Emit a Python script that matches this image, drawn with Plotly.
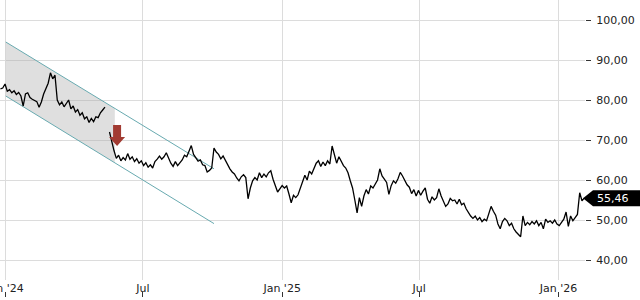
import numpy as np
import pandas as pd
import plotly.graph_objects as go

# ---- data ----
start_date = "2023-12-26"
step = "3D"
price = [
    82.8, 83.0, 84.0, 82.2, 82.6, 81.8, 82.3, 81.4, 81.9, 81.0,
    78.5, 81.5, 81.8, 80.6, 80.2, 79.8, 79.6, 78.2, 79.5, 81.5,
    82.8, 84.2, 86.8, 85.3, 86.2, 80.0, 78.8, 79.5, 78.3, 79.3,
    80.0, 77.8, 78.5, 77.0, 77.6, 76.2, 76.8, 75.3, 75.8, 74.4,
    75.4, 74.6, 75.8, 75.6, 76.8, 77.5, 78.2, None, 72.0, 69.3,
    67.3, 65.4, 66.2, 64.8, 65.6, 65.0, 66.6, 65.2, 65.8, 64.6,
    65.3, 64.2, 64.8, 63.6, 64.3, 63.2, 63.8, 63.0, 64.6, 65.2,
    66.0, 65.2, 65.8, 66.8, 65.3, 64.2, 63.4, 64.6, 63.6, 64.3,
    65.0, 66.2, 65.8, 67.2, 68.6, 66.4, 65.4, 64.7, 65.0, 63.8,
    63.6, 62.0, 62.4, 63.0, 68.0, 67.0, 66.4, 65.3, 66.0, 64.8,
    64.0, 62.8, 62.0, 61.5, 60.5, 59.8, 60.8, 61.3, 60.6, 55.3,
    58.0, 59.8, 60.6, 60.0, 61.8, 60.6, 61.5, 60.8, 61.8, 62.3,
    60.2, 58.4, 57.0, 57.8, 58.6, 58.0, 58.5, 56.5, 54.3, 56.2,
    55.6, 56.3, 57.8, 59.6, 61.2, 60.0, 62.2, 61.5, 63.0, 64.2,
    64.8, 63.4, 64.5, 63.6, 64.8, 64.0, 68.5, 66.0, 64.2, 65.8,
    64.6, 63.6, 63.0, 61.8, 59.8, 58.0, 55.0, 51.8, 55.6, 53.4,
    56.0, 57.6, 56.5, 58.5, 58.0, 59.2, 60.0, 62.8, 61.0, 60.2,
    59.4, 56.4, 58.6, 59.8, 59.2, 60.3, 61.9, 61.0, 60.0, 58.8,
    58.2, 56.6, 57.6, 56.0, 57.4, 56.2, 57.2, 58.0, 55.2, 54.2,
    55.8, 55.0, 55.6, 57.8, 56.0, 54.6, 53.4, 54.0, 55.4, 54.8,
    55.0, 54.0, 55.2, 53.8, 54.2, 52.8, 51.8, 51.0, 50.4, 51.0,
    50.0, 50.6, 49.6, 50.2, 49.8, 51.4, 53.4, 52.2, 51.2, 49.0,
    47.8, 49.6, 50.4, 49.8, 48.6, 49.2, 47.8, 47.0, 46.4, 45.8,
    51.0, 48.6, 49.4, 48.8, 49.6, 49.0, 49.8, 48.6, 49.4, 47.8,
    50.2, 49.4, 49.8, 49.2, 50.0, 49.0, 48.6, 49.4, 50.2, 52.0,
    48.4, 51.0, 49.8, 50.6, 51.4, 56.8, 54.8, 55.46,
]
dates = pd.date_range(start_date, periods=len(price), freq=step)

channel_dates = ["2024-01-02", "2024-10-03"]
channel_upper = [94.5, 62.8]
channel_lower = [81.0, 49.1]
shade_end_date = "2024-05-25"

arrow_date = "2024-05-28"
arrow_value = 68.5

x_tickvals = ["2024-01-01", "2024-07-01", "2025-01-01", "2025-07-01", "2026-01-01"]
x_ticktext = ["Jan '24", "Jul", "Jan '25", "Jul", "Jan '26"]
y_tickvals = [40, 50, 60, 70, 80, 90, 100]

x_range = ["2023-12-25 09:00", "2026-02-05 00:00"]
y_range = [35, 105]

# ---- derived geometry of shaded part of channel ----
t = lambda d: pd.Timestamp(d).value / 1e9
ct = [t(d) for d in channel_dates]
se = t(shade_end_date)
up_end = float(np.interp(se, ct, channel_upper))
lo_end = float(np.interp(se, ct, channel_lower))

font = "DejaVu Sans"
teal = "#68aab0"

fig = go.Figure()

fig.add_trace(go.Scatter(
    x=[channel_dates[0], shade_end_date, shade_end_date, channel_dates[0], channel_dates[0]],
    y=[channel_upper[0], up_end, lo_end, channel_lower[0], channel_upper[0]],
    fill="toself", fillcolor="rgba(170,170,170,0.38)", line=dict(width=0),
    mode="lines", hoverinfo="skip", showlegend=False,
))
fig.add_trace(go.Scatter(x=channel_dates, y=channel_upper, mode="lines",
                         line=dict(color=teal, width=1), showlegend=False))
fig.add_trace(go.Scatter(x=channel_dates, y=channel_lower, mode="lines",
                         line=dict(color=teal, width=1), showlegend=False))
fig.add_trace(go.Scatter(x=dates, y=price, mode="lines", connectgaps=False,
                         line=dict(color="black", width=1.3), showlegend=False))

# dummy trace for second x axis (tick marks below labels)
fig.add_trace(go.Scatter(x=[dates[0]], y=[None], xaxis="x2", showlegend=False))

# red down arrow
fig.add_shape(type="path", xref="x", yref="y", xsizemode="pixel", ysizemode="pixel",
              xanchor=arrow_date, yanchor=arrow_value,
              path="M0,0 L-8,9 L-4,9 L-4,21 L4,21 L4,9 L8,9 Z",
              fillcolor="#a23b32", line=dict(width=0), layer="above")

# last value label
last = price[-1]
fig.add_shape(type="path", xref="paper", yref="y", xsizemode="pixel", ysizemode="pixel",
              xanchor=1, yanchor=last,
              path="M-2,0 L8,8 L60,8 L60,-8 L8,-8 Z",
              fillcolor="black", line=dict(width=0), layer="above")
fig.add_annotation(xref="paper", yref="y", x=1, y=last, xanchor="left", xshift=10,
                   text=f"{last:.2f}".replace(".", ","), showarrow=False,
                   font=dict(family=font, size=11, color="white"))

fig.update_layout(
    width=640, height=300,
    margin=dict(l=0, r=55, t=0, b=0, autoexpand=False),
    paper_bgcolor="white", plot_bgcolor="white",
    separators=",.",
    font=dict(family=font, size=11, color="#222"),
    xaxis=dict(range=x_range, type="date", tickvals=x_tickvals, ticktext=x_ticktext,
               showgrid=True, gridcolor="#dcdcdc", gridwidth=1, zeroline=False,
               showline=False, ticks="", anchor="y", ticklabelstandoff=0,
               ticklabeloverflow="allow", automargin=False),
    xaxis2=dict(range=x_range, type="date", tickvals=x_tickvals, ticktext=x_ticktext,
                overlaying="x", anchor="free", position=0.01, side="bottom",
                showgrid=False, showticklabels=False, ticks="inside", ticklen=5,
                tickcolor="#333", showline=False, zeroline=False, automargin=False),
    yaxis=dict(range=y_range, side="right", tickvals=y_tickvals, tickformat=".2f",
               showgrid=True, gridcolor="#dcdcdc", gridwidth=1, zeroline=False,
               ticks="outside", ticklen=5, tickcolor="#333", showline=False,
               domain=[20 / 300, 1], ticklabelstandoff=3, automargin=False),
)

fig.write_html("out.html")
